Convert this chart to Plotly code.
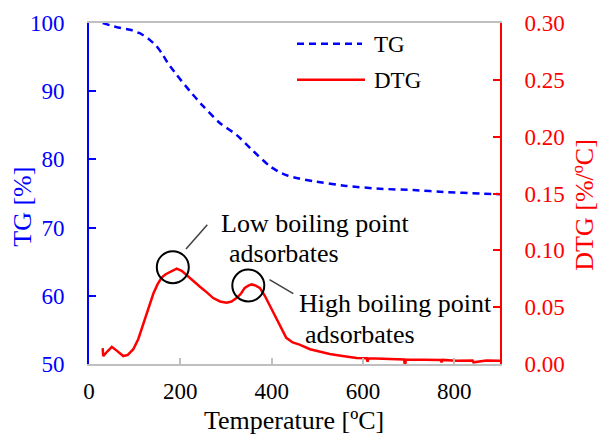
import plotly.graph_objects as go

# ---- data ----
tg_temp = [30, 60, 90, 111, 130, 148, 160, 173, 192, 221, 250, 287, 323, 360, 396,
           418, 436, 460, 491, 564, 637, 710, 783, 856, 900]
tg_val = [100, 99.4, 99.0, 98.5, 97.7, 96.6, 95.5, 94.1, 92.4, 90.0, 87.8, 85.3, 83.6,
          81.2, 79.0, 78.1, 77.6, 77.2, 76.8, 76.1, 75.7, 75.5, 75.2, 75.0, 74.9]

dtg_temp = [30, 31, 40, 50, 60, 75, 85, 97, 108, 119, 130, 141, 150, 159, 168, 178, 192,
            203, 214, 228, 243, 258, 272, 287, 301, 312, 323, 333, 341, 349, 356, 365,
            374, 385, 396, 407, 418, 432, 446, 461, 484, 505, 527, 555, 586, 608, 610,
            612, 659, 690, 692, 694, 732, 770, 772, 774, 805, 840, 842, 870, 900]
dtg_val = [0.014, 0.007, 0.011, 0.015, 0.012, 0.007, 0.008, 0.013, 0.022, 0.036, 0.049,
           0.062, 0.070, 0.076, 0.079, 0.081, 0.084, 0.082, 0.078, 0.073, 0.068, 0.063,
           0.058, 0.055, 0.054, 0.055, 0.058, 0.062, 0.067, 0.069, 0.070, 0.069, 0.067,
           0.060, 0.051, 0.042, 0.033, 0.023, 0.019, 0.017, 0.013, 0.011, 0.0088, 0.007,
           0.0053, 0.005, 0.002, 0.005, 0.0044, 0.004, -0.002, 0.004, 0.0038, 0.0035,
           0.0015, 0.0036, 0.0029, 0.003, 0.0015, 0.003, 0.0029]

x_ticks = [0, 200, 400, 600, 800]
tg_ticks = [50, 60, 70, 80, 90, 100]
dtg_ticks = [0.00, 0.05, 0.10, 0.15, 0.20, 0.25, 0.30]

FONT = "Liberation Serif"
BLUE = "#0000ff"
RED = "#ff0000"
GRAY = "#bfbfbf"

fig = go.Figure()
fig.add_trace(go.Scatter(x=tg_temp, y=tg_val, mode="lines", name="TG",
                         line=dict(color=BLUE, width=2.5, dash="7px,5px", shape="spline",
                                   smoothing=0.6),
                         yaxis="y", showlegend=False))
fig.add_trace(go.Scatter(x=dtg_temp, y=dtg_val, mode="lines", name="DTG",
                         line=dict(color=RED, width=2.5),
                         yaxis="y2", showlegend=False))

fig.update_layout(
    width=601, height=434,
    margin=dict(l=89, r=101, t=23, b=70),
    paper_bgcolor="white", plot_bgcolor="white",
    font=dict(family=FONT, size=23, color="black"),
    xaxis=dict(range=[0, 900], tickvals=x_ticks, showgrid=False, zeroline=False,
               showline=True, linecolor=GRAY, linewidth=1.5, mirror=True,
               ticks="inside", ticklen=6, tickwidth=1.5, tickcolor=GRAY,
               tickfont=dict(family=FONT, size=23, color="black"), ticklabelstandoff=6),
    yaxis=dict(range=[50, 100], tickvals=tg_ticks, showgrid=False, zeroline=False,
               showline=True, linecolor=BLUE, linewidth=2,
               ticks="inside", ticklen=7, tickwidth=2, tickcolor=BLUE,
               tickfont=dict(family=FONT, size=23, color=BLUE), ticklabelstandoff=18),
    yaxis2=dict(range=[0, 0.30], tickvals=dtg_ticks, tickformat=".2f", overlaying="y",
                side="right", showgrid=False, zeroline=False,
                showline=True, linecolor=RED, linewidth=2,
                ticks="inside", ticklen=7, tickwidth=2, tickcolor=RED,
                tickfont=dict(family=FONT, size=23, color=RED), ticklabelstandoff=18),
)

def px2paper(px, py):
    return (px - 89) / 411.0, (364.3 - py) / 341.0

def px2data(px, py):
    return (px - 89) * 900 / 411.0, (364.3 - py) * 0.30 / 341.0

annots = []
# axis titles
for txt, (px, py), ang, col in [("TG [%]", (23, 207), -90, BLUE),
                                ("DTG [%/ºC]", (585, 205), -90, RED),
                                ("Temperature [ºC]", (294, 421), 0, "black")]:
    ax_, ay_ = px2paper(px, py)
    annots.append(dict(text=txt, x=ax_, y=ay_, xref="paper", yref="paper",
                       showarrow=False, textangle=ang, xanchor="center", yanchor="middle",
                       font=dict(size=26, color=col, family=FONT)))

# legend (manual)
for (x0, x1, y, txt, dash, col) in [(297, 362, 44, "TG", "7px,5px", BLUE),
                                    (297, 365, 80, "DTG", "solid", RED)]:
    a0, b0 = px2paper(x0, y)
    a1, _ = px2paper(x1, y)
    fig.add_shape(type="line", xref="paper", yref="paper", x0=a0, x1=a1, y0=b0, y1=b0,
                  line=dict(color=col, width=2.5, dash=dash))
    tx, ty = px2paper(372, y + 1)
    annots.append(dict(text=txt, x=tx, y=ty, xref="paper", yref="paper", showarrow=False,
                       xanchor="left", yanchor="middle",
                       font=dict(size=23, color="black", family=FONT)))

# callout texts
for txt, (px, py) in [("Low boiling point", (219, 224)), ("adsorbates", (227, 254)),
                      ("High boiling point", (297, 304)), ("adsorbates", (303, 335))]:
    dx, dy = px2data(px, py)
    annots.append(dict(text=txt, x=dx, y=dy, xref="x", yref="y2", showarrow=False,
                       xanchor="left", yanchor="middle",
                       font=dict(size=26, color="black", family=FONT)))

# circles
for (cx, cy) in [(172.8, 267.5), (248.3, 285.8)]:
    dx, dy = px2data(cx, cy)
    fig.add_shape(type="circle", xref="x", yref="y2", xsizemode="pixel", ysizemode="pixel",
                  xanchor=dx, yanchor=dy, x0=-16, x1=16, y0=-16, y1=16,
                  line=dict(color="black", width=2))

# leader lines
for (p0, p1) in [((186, 249.3), (207.3, 225)), ((269.5, 280), (293.3, 294))]:
    a0, b0 = px2data(*p0)
    a1, b1 = px2data(*p1)
    fig.add_shape(type="line", xref="x", yref="y2", x0=a0, y0=b0, x1=a1, y1=b1,
                  line=dict(color="#404040", width=1.5))

fig.update_layout(annotations=annots)
fig.write_html("out.html")
